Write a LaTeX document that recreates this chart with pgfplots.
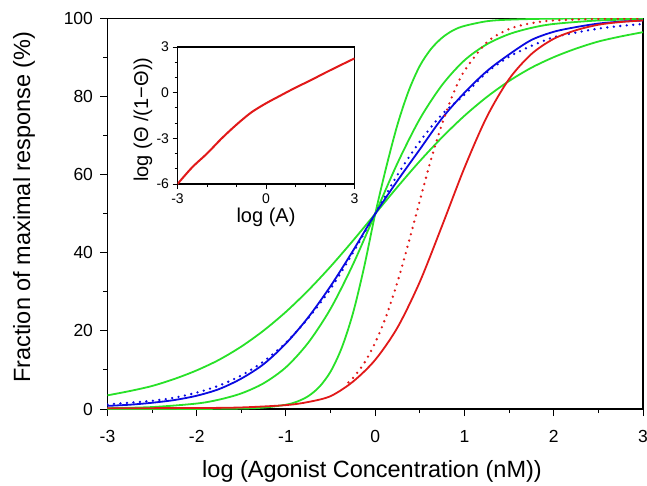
\documentclass[border=0pt]{standalone}
\usepackage{fontspec}
\setmainfont{Liberation Sans}
\usepackage{pgfplots}
\pgfplotsset{compat=1.18}
\definecolor{cgreen}{RGB}{40,225,40}
\definecolor{cblue}{RGB}{10,10,225}
\definecolor{cred}{RGB}{225,25,25}
\begin{document}
\begin{tikzpicture}[x=1pt,y=1pt]
\path[use as bounding box] (-107.5pt,-76pt) rectangle (539.5pt,409pt);
\begin{axis}[
  at={(0pt,0pt)}, anchor=south west,
  scale only axis, width=535.5pt, height=390.5pt,
  xmin=-3, xmax=3, ymin=0, ymax=100,
  xtick={-3,-2,...,3}, ytick={0,20,...,100},
  minor x tick num=1, minor y tick num=1,
  tick align=outside, xtick pos=bottom, ytick pos=left,
  major tick length=7pt, minor tick length=4pt,
  tick style={line width=1pt, black},
  axis line style={line width=1.2pt},
  /pgf/number format/assume math mode=true,
  tick label style={font=\fontsize{17.5}{20}\selectfont},
  xticklabel style={yshift=-11pt},
  yticklabel style={xshift=-4pt},
  label style={font=\fontsize{23.5}{28}\selectfont},
  xlabel={log (Agonist Concentration (nM))},
  ylabel={Fraction of maximal response (\%)},
  xlabel style={at={(axis description cs:0.494,-0.159)}, anchor=center},
  ylabel style={at={(axis description cs:-0.156,0.517)}, anchor=center},
  every axis plot/.append style={line width=1.8pt, smooth, tension=0.5},
]
% green, Hill slope ~0.5
\addplot[cgreen] coordinates {(-3,3.5)(-2.75,4.6)(-2.5,5.9)(-2.25,7.7)(-2,9.9)(-1.75,12.6)(-1.5,16.0)(-1.25,20.1)(-1,24.9)(-0.75,30.4)(-0.5,36.5)(-0.25,43.1)(0,50)(0.25,56.9)(0.5,63.5)(0.75,69.6)(1,75.1)(1.25,79.9)(1.5,84.0)(1.75,87.4)(2,90.1)(2.25,92.3)(2.5,94.1)(2.75,95.4)(3,96.5)};
% green, slope ~1
\addplot[cgreen] coordinates {(-3,0.2)(-2.5,0.5)(-2,1.4)(-1.75,2.4)(-1.5,4.0)(-1.25,6.6)(-1,10.7)(-0.75,17.0)(-0.5,25.7)(-0.25,37.0)(0,50)(0.25,63.0)(0.5,74.3)(0.75,83.0)(1,89.3)(1.25,93.4)(1.5,96.0)(1.75,97.6)(2,98.6)(2.5,99.5)(3,99.8)};
% green, steep
\addplot[cgreen] coordinates {(-3,0)(-2,0.02)(-1.5,0.12)(-1.25,0.36)(-1,1.1)(-0.875,1.9)(-0.75,3.3)(-0.625,5.7)(-0.5,9.6)(-0.375,15.7)(-0.25,24.5)(-0.125,36.3)(0,50)(0.125,62.1)(0.25,72.9)(0.375,81.5)(0.5,87.9)(0.625,92.2)(0.75,95.1)(0.875,97.0)(1,98.1)(1.25,99.3)(1.5,99.7)(2,99.96)(3,100)};
% blue dotted
\addplot[cblue, line width=2.6pt, line cap=round, dash pattern=on 0pt off 6.5pt] coordinates {(-3,1.2)(-2.75,1.6)(-2.5,2.1)(-2.25,2.9)(-2,4.2)(-1.75,6.0)(-1.5,8.6)(-1.25,12.2)(-1,17.0)(-0.75,23.3)(-0.5,30.8)(-0.25,40.0)(0,50)(0.25,60)(0.5,68.5)(0.75,75.5)(1,80.5)(1.25,86.2)(1.5,90.2)(1.75,93.0)(2,95.2)(2.25,96.4)(2.5,97.4)(2.75,98.1)(3,98.6)};
% blue solid
\addplot[cblue] coordinates {(-3,0.8)(-2.75,1.1)(-2.5,1.6)(-2.25,2.3)(-2,3.4)(-1.75,5.1)(-1.5,7.8)(-1.25,11.5)(-1,16.8)(-0.75,23.5)(-0.5,31.5)(-0.25,40.5)(0,50)(0.25,58.5)(0.5,66.5)(0.75,74.5)(1,81.0)(1.25,86.5)(1.5,90.8)(1.75,94.5)(2,96.6)(2.25,97.8)(2.5,98.7)(2.75,99.2)(3,99.5)};
% red dotted
\addplot[cred, line width=2.6pt, line cap=round, dash pattern=on 0pt off 6.5pt] coordinates {(-0.3,6.8)(-0.25,7.9)(-0.125,11.7)(0,17.0)(0.125,23.9)(0.25,32.6)(0.375,42.7)(0.5,53.4)(0.625,63.9)(0.75,73.1)(0.875,80.8)(1,86.6)(1.25,93.9)(1.5,97.3)(1.75,98.8)(2,99.5)(2.5,99.9)(3,100)};
% red solid
\addplot[cred] coordinates {(-3,0.2)(-2,0.25)(-1.5,0.4)(-1,1.0)(-0.75,1.8)(-0.5,3.3)(-0.25,7.0)(0,12.6)(0.25,20.9)(0.5,32.6)(0.75,47.0)(1,61.8)(1.25,74.8)(1.5,84.5)(1.75,90.9)(2,94.8)(2.25,97.0)(2.5,98.4)(2.75,99.1)(3,99.5)};
\end{axis}
\begin{axis}[
  at={(70pt,225pt)}, anchor=south west,
  scale only axis, width=177pt, height=137pt,
  xmin=-3, xmax=3, ymin=-6, ymax=3,
  xtick={-3,0,3}, ytick={-6,-3,0,3},
  minor x tick num=2, minor y tick num=2,
  tick align=outside, xtick pos=bottom, ytick pos=left,
  major tick length=5pt, minor tick length=3pt,
  tick style={line width=0.9pt, black},
  axis line style={line width=1.2pt},
  axis background/.style={fill=white},
  /pgf/number format/assume math mode=true,
  tick label style={font=\fontsize{14}{16}\selectfont},
  xticklabel style={yshift=-1pt},
  label style={font=\fontsize{20}{24}\selectfont},
  xlabel={log (A)},
  ylabel={log (Θ /(1−Θ))},
  xlabel style={at={(axis description cs:0.5,-0.24)}, anchor=center},
  ylabel style={at={(axis description cs:-0.195,0.47)}, anchor=center},
]
\addplot[cred, line width=2pt, smooth] coordinates {(-3,-6)(-2.5,-4.9)(-2,-4.0)(-1.5,-3.0)(-1,-2.1)(-0.5,-1.3)(0,-0.7)(0.5,-0.18)(1,0.33)(1.5,0.8)(2,1.3)(2.5,1.78)(3,2.25)};
\end{axis}
\end{tikzpicture}
\end{document}
